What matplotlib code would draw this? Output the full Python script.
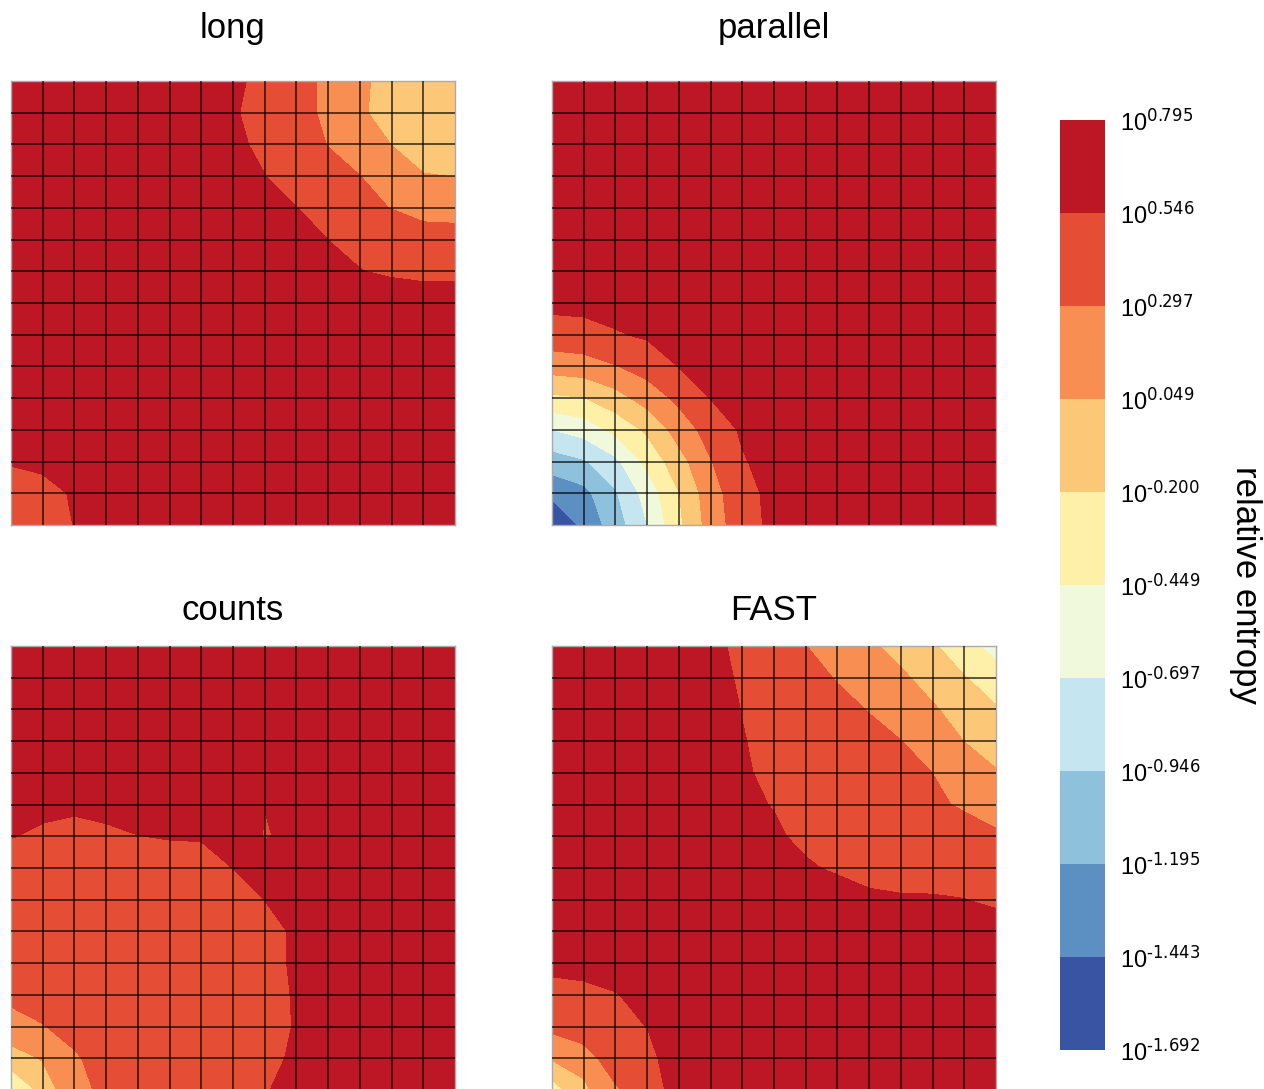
import matplotlib.pyplot as plt
import numpy as np

plt.rcParams["font.family"] = ["Liberation Sans", "DejaVu Sans"]
plt.rcParams["mathtext.default"] = "regular"

# contour levels (log10 of relative entropy)
log_levels = [-1.692, -1.443, -1.195, -0.946, -0.697, -0.449,
              -0.200, 0.049, 0.297, 0.546, 0.795]

panel_names = ["long", "parallel", "counts", "FAST"]

# log10 relative entropy on a 15x15 grid, rows listed top to bottom
long_vals = [
    [0.74, 0.75, 0.75, 0.74, 0.72, 0.69, 0.65, 0.60, 0.471, 0.38, 0.25, 0.12, -0.09, -0.14, -0.17],
    [0.75, 0.76, 0.76, 0.75, 0.73, 0.70, 0.66, 0.57, 0.456, 0.37, 0.255, 0.10, -0.096, -0.13, -0.15],
    [0.76, 0.77, 0.77, 0.76, 0.74, 0.71, 0.67, 0.60, 0.49, 0.40, 0.29, 0.17, 0.045, -0.03, -0.06],
    [0.77, 0.78, 0.78, 0.77, 0.75, 0.72, 0.68, 0.63, 0.55, 0.45, 0.37, 0.30, 0.16, 0.058, 0.045],
    [0.77, 0.78, 0.78, 0.78, 0.76, 0.74, 0.71, 0.67, 0.62, 0.55, 0.45, 0.36, 0.29, 0.20, 0.19],
    [0.78, 0.79, 0.79, 0.78, 0.77, 0.75, 0.73, 0.70, 0.66, 0.62, 0.545, 0.50, 0.46, 0.42, 0.41],
    [0.78, 0.79, 0.79, 0.79, 0.78, 0.76, 0.74, 0.72, 0.69, 0.66, 0.60, 0.551, 0.52, 0.50, 0.50],
    [0.78, 0.78, 0.79, 0.79, 0.78, 0.77, 0.75, 0.74, 0.72, 0.70, 0.68, 0.66, 0.65, 0.64, 0.64],
    [0.77, 0.78, 0.78, 0.78, 0.78, 0.77, 0.76, 0.75, 0.74, 0.72, 0.71, 0.70, 0.70, 0.69, 0.69],
    [0.76, 0.77, 0.78, 0.78, 0.78, 0.77, 0.76, 0.76, 0.75, 0.74, 0.73, 0.72, 0.72, 0.71, 0.71],
    [0.74, 0.76, 0.77, 0.77, 0.77, 0.77, 0.76, 0.76, 0.75, 0.75, 0.74, 0.73, 0.73, 0.72, 0.72],
    [0.70, 0.73, 0.75, 0.76, 0.76, 0.76, 0.76, 0.75, 0.75, 0.75, 0.74, 0.74, 0.73, 0.73, 0.73],
    [0.58, 0.60, 0.70, 0.73, 0.75, 0.75, 0.75, 0.75, 0.75, 0.74, 0.74, 0.74, 0.73, 0.73, 0.73],
    [0.337, 0.465, 0.572, 0.68, 0.72, 0.74, 0.74, 0.74, 0.74, 0.74, 0.74, 0.73, 0.73, 0.73, 0.73],
    [0.32, 0.40, 0.554, 0.66, 0.71, 0.73, 0.74, 0.74, 0.74, 0.74, 0.73, 0.73, 0.73, 0.73, 0.73],
]

parallel_vals = [
    [0.78, 0.78, 0.78, 0.78, 0.79, 0.79, 0.79, 0.79, 0.79, 0.79, 0.79, 0.79, 0.79, 0.79, 0.79],
    [0.77, 0.77, 0.78, 0.78, 0.78, 0.78, 0.79, 0.79, 0.79, 0.79, 0.79, 0.79, 0.79, 0.79, 0.79],
    [0.76, 0.76, 0.77, 0.77, 0.77, 0.78, 0.78, 0.78, 0.79, 0.79, 0.79, 0.79, 0.79, 0.79, 0.79],
    [0.75, 0.75, 0.76, 0.76, 0.76, 0.77, 0.77, 0.78, 0.78, 0.79, 0.79, 0.79, 0.79, 0.79, 0.79],
    [0.74, 0.74, 0.74, 0.75, 0.75, 0.76, 0.76, 0.77, 0.78, 0.78, 0.78, 0.79, 0.79, 0.79, 0.79],
    [0.72, 0.72, 0.73, 0.73, 0.74, 0.75, 0.75, 0.76, 0.77, 0.78, 0.78, 0.79, 0.79, 0.79, 0.79],
    [0.70, 0.70, 0.70, 0.71, 0.72, 0.73, 0.74, 0.75, 0.76, 0.77, 0.78, 0.78, 0.79, 0.79, 0.79],
    [0.604, 0.61, 0.63, 0.66, 0.70, 0.71, 0.73, 0.74, 0.75, 0.76, 0.77, 0.78, 0.78, 0.79, 0.79],
    [0.443, 0.465, 0.527, 0.576, 0.624, 0.68, 0.71, 0.73, 0.74, 0.75, 0.76, 0.77, 0.78, 0.79, 0.79],
    [0.155, 0.188, 0.282, 0.40, 0.55, 0.61, 0.68, 0.71, 0.73, 0.75, 0.76, 0.77, 0.78, 0.78, 0.79],
    [-0.25, -0.209, -0.049, 0.155, 0.355, 0.55, 0.624, 0.70, 0.72, 0.74, 0.75, 0.76, 0.77, 0.78, 0.79],
    [-0.70, -0.597, -0.381, -0.156, 0.155, 0.40, 0.576, 0.66, 0.71, 0.73, 0.75, 0.76, 0.77, 0.78, 0.78],
    [-1.07, -0.973, -0.758, -0.381, -0.049, 0.282, 0.527, 0.63, 0.70, 0.73, 0.74, 0.75, 0.76, 0.77, 0.78],
    [-1.378, -1.27, -0.973, -0.597, -0.209, 0.188, 0.465, 0.61, 0.70, 0.72, 0.74, 0.75, 0.76, 0.77, 0.78],
    [-1.692, -1.378, -1.07, -0.70, -0.25, 0.155, 0.443, 0.604, 0.70, 0.72, 0.74, 0.75, 0.76, 0.77, 0.78],
]

counts_vals = [
    [0.76, 0.77, 0.78, 0.78, 0.79, 0.79, 0.79, 0.79, 0.79, 0.79, 0.79, 0.78, 0.78, 0.77, 0.77],
    [0.74, 0.75, 0.76, 0.77, 0.78, 0.78, 0.78, 0.78, 0.78, 0.78, 0.78, 0.78, 0.77, 0.77, 0.76],
    [0.72, 0.73, 0.74, 0.75, 0.76, 0.77, 0.77, 0.77, 0.77, 0.77, 0.77, 0.77, 0.77, 0.76, 0.76],
    [0.69, 0.70, 0.71, 0.72, 0.74, 0.75, 0.76, 0.76, 0.75, 0.76, 0.76, 0.76, 0.76, 0.76, 0.75],
    [0.64, 0.66, 0.66, 0.68, 0.71, 0.73, 0.74, 0.74, 0.70, 0.74, 0.75, 0.75, 0.75, 0.75, 0.75],
    [0.60, 0.60, 0.58, 0.60, 0.64, 0.68, 0.70, 0.71, 0.55, 0.70, 0.73, 0.74, 0.74, 0.74, 0.74],
    [0.555, 0.508, 0.486, 0.51, 0.542, 0.56, 0.565, 0.75, 0.53, 0.60, 0.70, 0.72, 0.73, 0.73, 0.73],
    [0.42, 0.45, 0.45, 0.46, 0.46, 0.443, 0.453, 0.548, 0.70, 0.68, 0.70, 0.71, 0.72, 0.72, 0.72],
    [0.40, 0.43, 0.44, 0.45, 0.46, 0.46, 0.46, 0.46, 0.548, 0.65, 0.68, 0.70, 0.71, 0.71, 0.71],
    [0.38, 0.42, 0.43, 0.45, 0.46, 0.46, 0.46, 0.47, 0.47, 0.579, 0.65, 0.68, 0.70, 0.70, 0.70],
    [0.36, 0.40, 0.42, 0.44, 0.45, 0.46, 0.46, 0.47, 0.47, 0.58, 0.64, 0.67, 0.69, 0.70, 0.70],
    [0.33, 0.38, 0.40, 0.43, 0.44, 0.45, 0.46, 0.47, 0.47, 0.565, 0.63, 0.67, 0.69, 0.70, 0.70],
    [0.243, 0.288, 0.36, 0.42, 0.44, 0.45, 0.46, 0.47, 0.48, 0.558, 0.63, 0.67, 0.69, 0.70, 0.70],
    [-0.086, 0.07, 0.274, 0.374, 0.42, 0.44, 0.46, 0.47, 0.49, 0.579, 0.64, 0.67, 0.69, 0.70, 0.70],
    [-0.40, -0.14, 0.29, 0.302, 0.40, 0.43, 0.45, 0.47, 0.52, 0.673, 0.68, 0.69, 0.70, 0.70, 0.70],
]

fast_vals = [
    [0.76, 0.75, 0.73, 0.70, 0.65, 0.596, 0.498, 0.399, 0.300, 0.196, 0.091, -0.032, -0.167, -0.358, -0.55],
    [0.76, 0.75, 0.73, 0.70, 0.65, 0.603, 0.524, 0.445, 0.366, 0.284, 0.186, 0.088, -0.04, -0.188, -0.32],
    [0.76, 0.75, 0.73, 0.70, 0.66, 0.604, 0.542, 0.480, 0.418, 0.355, 0.289, 0.182, 0.075, -0.05, -0.18],
    [0.76, 0.75, 0.74, 0.71, 0.66, 0.603, 0.553, 0.503, 0.453, 0.402, 0.351, 0.301, 0.176, 0.045, -0.086],
    [0.76, 0.75, 0.74, 0.71, 0.67, 0.606, 0.561, 0.517, 0.473, 0.429, 0.385, 0.340, 0.296, 0.183, 0.071],
    [0.77, 0.76, 0.75, 0.72, 0.68, 0.623, 0.581, 0.538, 0.496, 0.454, 0.411, 0.369, 0.327, 0.275, 0.20],
    [0.77, 0.76, 0.75, 0.73, 0.70, 0.65, 0.61, 0.573, 0.505, 0.47, 0.44, 0.42, 0.40, 0.371, 0.329],
    [0.77, 0.76, 0.75, 0.74, 0.72, 0.69, 0.65, 0.62, 0.569, 0.52, 0.50, 0.49, 0.49, 0.47, 0.44],
    [0.76, 0.76, 0.75, 0.74, 0.73, 0.71, 0.69, 0.67, 0.65, 0.638, 0.572, 0.56, 0.558, 0.549, 0.51],
    [0.70, 0.72, 0.74, 0.74, 0.74, 0.73, 0.72, 0.71, 0.70, 0.69, 0.67, 0.66, 0.65, 0.65, 0.639],
    [0.596, 0.56, 0.62, 0.66, 0.70, 0.72, 0.73, 0.73, 0.73, 0.72, 0.71, 0.70, 0.70, 0.70, 0.69],
    [0.48, 0.535, 0.538, 0.595, 0.65, 0.70, 0.72, 0.73, 0.73, 0.73, 0.72, 0.72, 0.72, 0.72, 0.72],
    [0.36, 0.50, 0.53, 0.547, 0.62, 0.68, 0.71, 0.73, 0.74, 0.74, 0.74, 0.74, 0.74, 0.74, 0.74],
    [0.073, 0.136, 0.494, 0.52, 0.596, 0.66, 0.70, 0.73, 0.74, 0.75, 0.75, 0.75, 0.75, 0.75, 0.75],
    [-0.32, 0.0, 0.25, 0.52, 0.567, 0.64, 0.69, 0.72, 0.74, 0.75, 0.76, 0.76, 0.76, 0.76, 0.76],
]


def main():
    W, H = 1264, 1089
    fig = plt.figure(figsize=(W / 100, H / 100), dpi=100)

    side = 444
    corners = [(11, 81), (552, 81), (11, 646), (552, 646)]  # left, top in px
    pads = [31, 31, 19, 19]
    grids = [long_vals, parallel_vals, counts_vals, fast_vals]

    n = len(long_vals)
    xs = np.arange(n)
    ys = np.arange(n)

    cs = None
    for name, vals, (left, top), pad in zip(panel_names, grids, corners, pads):
        ax = fig.add_axes([left / W, 1 - (top + side) / H, side / W, side / H])
        cs = ax.contourf(xs, ys, np.array(vals), levels=log_levels, cmap="RdYlBu_r")
        ax.set_xlim(0, n - 1)
        ax.set_ylim(n - 1, 0)
        ax.set_xticks(xs[1:-1])
        ax.set_yticks(ys[1:-1])
        ax.tick_params(length=0, labelbottom=False, labelleft=False)
        ax.grid(True, color="black", lw=1.2, alpha=0.75)
        ax.set_axisbelow(False)
        for sp in ax.spines.values():
            sp.set_color("#aaaaaa")
            sp.set_linewidth(1)
        ax.set_title(name, fontsize=25, pad=pad)

    cax = fig.add_axes([1060 / W, 1 - 1050 / H, 45 / W, 930 / H])
    cb = fig.colorbar(cs, cax=cax, ticks=log_levels)
    # \text keeps the plain hyphen used in the original labels
    cb.ax.set_yticklabels([f"$10^{{\\text{{{v:.3f}}}}}$" for v in log_levels])
    cb.ax.tick_params(length=0, pad=11, labelsize=17)
    cb.outline.set_visible(False)
    cb.set_label("relative entropy", rotation=270, fontsize=25, labelpad=44)

    fig.savefig("out.png", dpi=100)
    plt.close(fig)


if __name__ == "__main__":
    main()
